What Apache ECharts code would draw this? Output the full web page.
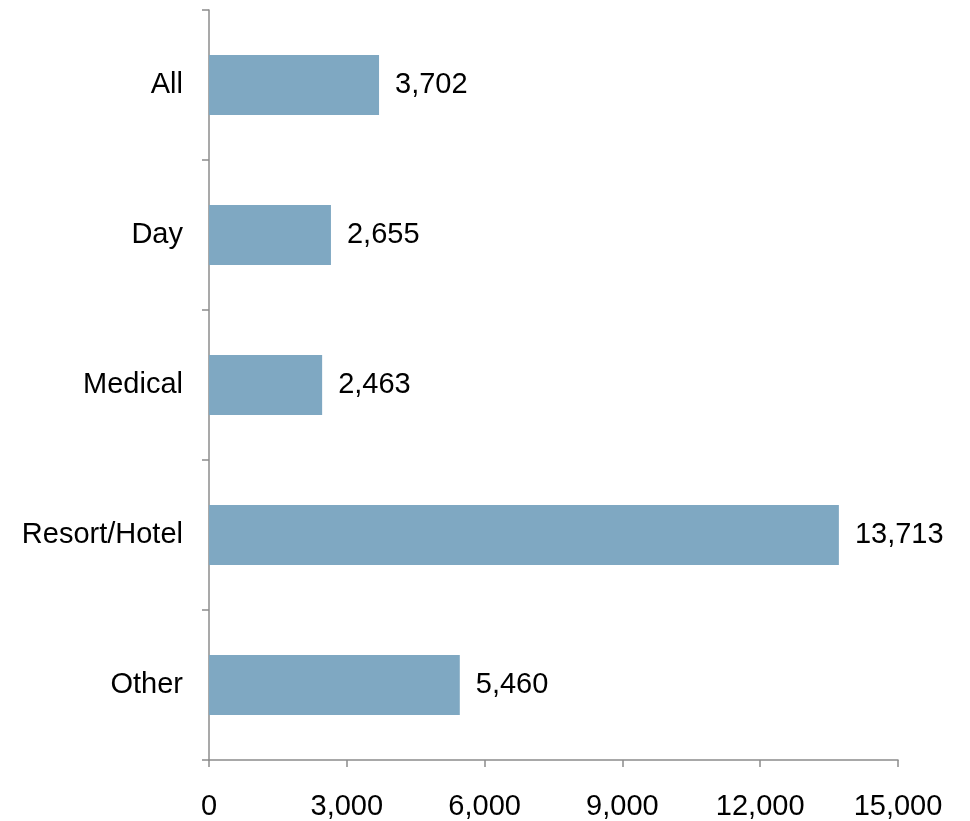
<!DOCTYPE html>
<html>
<head>
<meta charset="utf-8">
<script src="https://cdn.jsdelivr.net/npm/echarts@6/dist/echarts.min.js"></script>
<style>
  html, body { margin: 0; padding: 0; background: #ffffff; }
  #chart { width: 970px; height: 821px; }
</style>
</head>
<body>
<div id="chart"></div>
<script>
// Facility types, listed top to bottom
const categories = ['All', 'Day', 'Medical', 'Resort/Hotel', 'Other'];
const values = [3702, 2655, 2463, 13713, 5460];
const xTicks = [0, 3000, 6000, 9000, 12000, 15000];

const fmt = v => v.toLocaleString('en-US');
const axisGray = '#8c8c8c';
const font = '"Liberation Sans", Arial, sans-serif';
const textSize = 29;

const chart = echarts.init(document.getElementById('chart'), null, { renderer: 'canvas' });
chart.setOption({
  animation: false,
  backgroundColor: '#ffffff',
  grid: { left: 209, right: 72, top: 10, bottom: 60, containLabel: false },
  xAxis: {
    type: 'value',
    min: xTicks[0],
    max: xTicks[xTicks.length - 1],
    interval: xTicks[1] - xTicks[0],
    axisLine: { show: true, lineStyle: { color: axisGray, width: 1.5 } },
    axisTick: { show: true, length: 7, lineStyle: { color: axisGray, width: 1.5 } },
    splitLine: { show: false },
    axisLabel: {
      margin: 32,
      color: '#000000',
      fontSize: textSize,
      fontFamily: font,
      formatter: v => fmt(v)
    }
  },
  yAxis: {
    type: 'category',
    data: categories,
    inverse: true,
    axisLine: { show: true, lineStyle: { color: axisGray, width: 1.5 } },
    axisTick: { show: true, length: 7, alignWithLabel: false, lineStyle: { color: axisGray, width: 1.5 } },
    axisLabel: {
      margin: 26,
      color: '#000000',
      fontSize: textSize,
      fontFamily: font
    }
  },
  series: [{
    type: 'bar',
    data: values,
    barWidth: '40%',
    itemStyle: { color: '#7fa8c2' },
    label: {
      show: true,
      position: 'right',
      distance: 16,
      color: '#000000',
      fontSize: textSize,
      fontFamily: font,
      formatter: p => fmt(p.value)
    }
  }]
});
</script>
</body>
</html>
